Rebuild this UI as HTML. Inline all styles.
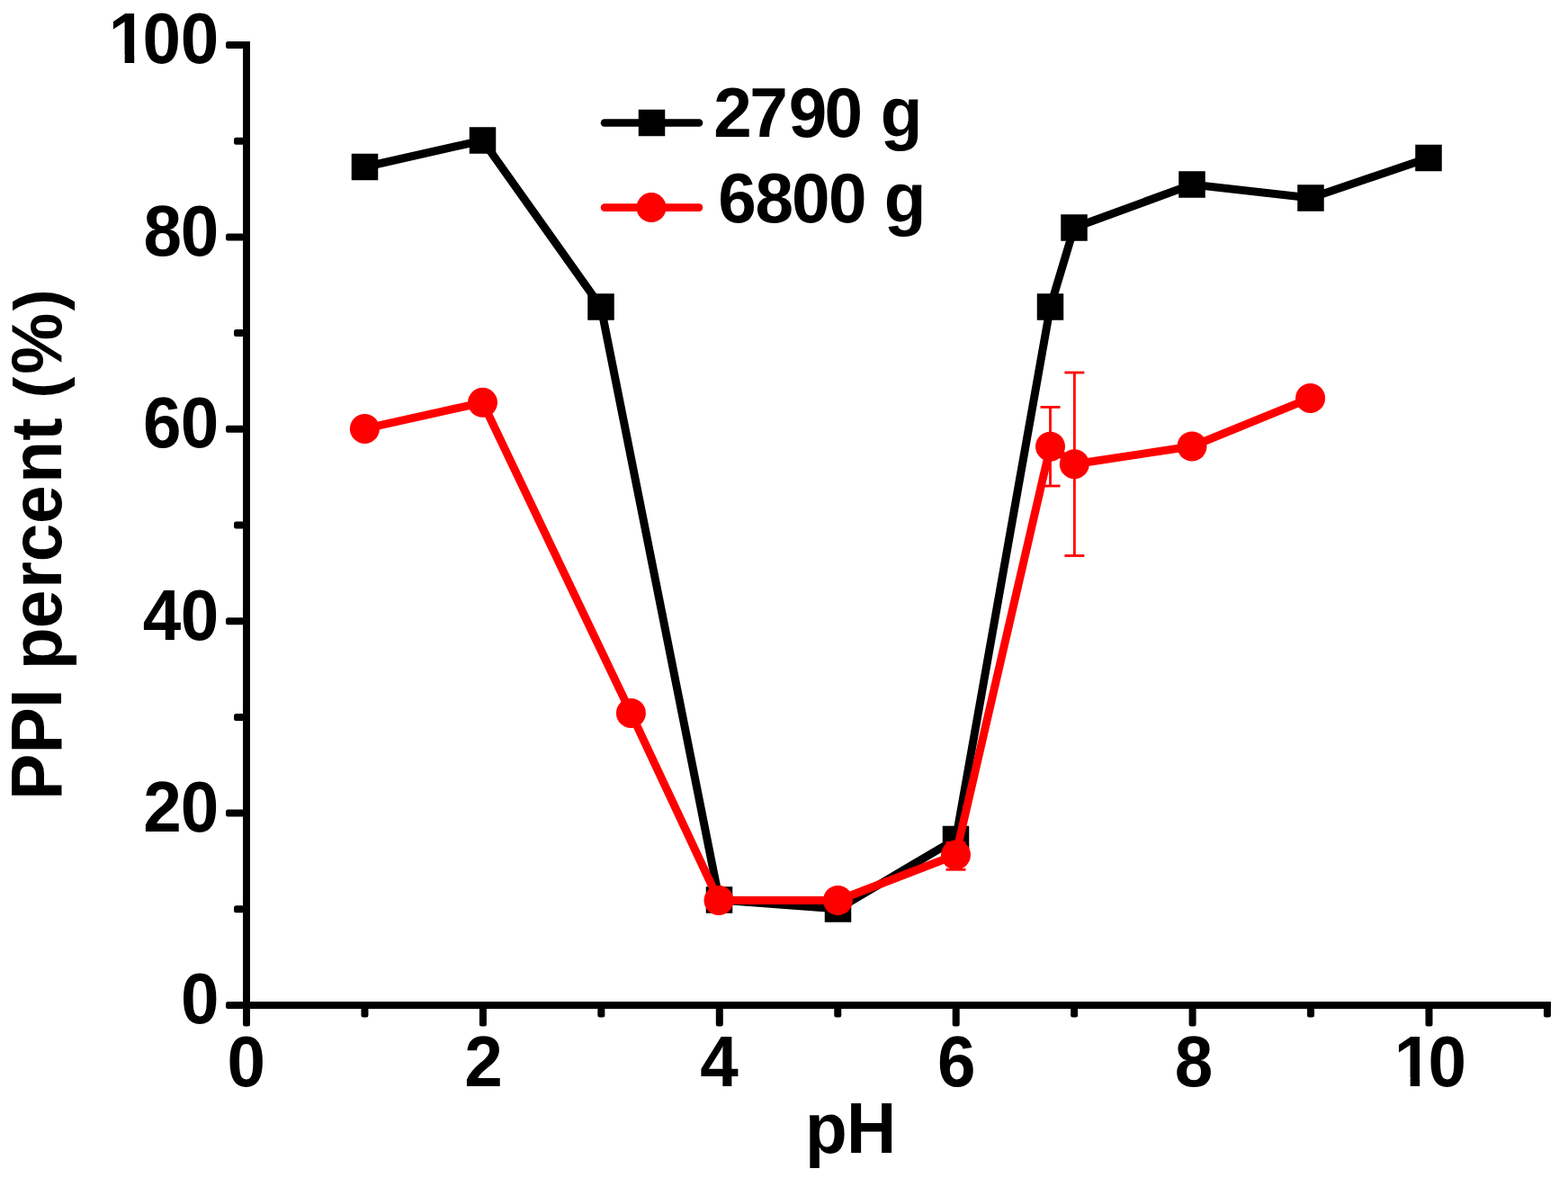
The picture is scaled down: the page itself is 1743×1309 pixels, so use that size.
<!DOCTYPE html><html><head><meta charset="utf-8"><title>PPI percent vs pH</title>
<style>html,body{margin:0;padding:0;background:#fff;overflow:hidden}svg{display:block}text{font-family:"Liberation Sans",Arial,sans-serif;font-weight:bold;fill:#000}</style></head><body>
<svg width="1743" height="1309" viewBox="0 0 1743 1309">
<rect width="1743" height="1309" fill="#fff"/>
<g fill="#000">
<rect x="270" y="46" width="8" height="1075"/>
<rect x="270" y="1113" width="1454" height="8"/>
</g>
<g fill="#000">
<rect x="251" y="1113.00" width="25" height="8" rx="2.5"/>
<rect x="260" y="1006.30" width="16" height="8" rx="2.5"/>
<rect x="251" y="899.60" width="25" height="8" rx="2.5"/>
<rect x="260" y="792.90" width="16" height="8" rx="2.5"/>
<rect x="251" y="686.20" width="25" height="8" rx="2.5"/>
<rect x="260" y="579.50" width="16" height="8" rx="2.5"/>
<rect x="251" y="472.80" width="25" height="8" rx="2.5"/>
<rect x="260" y="366.10" width="16" height="8" rx="2.5"/>
<rect x="251" y="259.40" width="25" height="8" rx="2.5"/>
<rect x="260" y="152.70" width="16" height="8" rx="2.5"/>
<rect x="251" y="46.00" width="25" height="8" rx="2.5"/>
<rect x="270.00" y="1115" width="8" height="25.5" rx="2.5"/>
<rect x="401.45" y="1115" width="8" height="15.5" rx="2.5"/>
<rect x="532.90" y="1115" width="8" height="25.5" rx="2.5"/>
<rect x="664.35" y="1115" width="8" height="15.5" rx="2.5"/>
<rect x="795.80" y="1115" width="8" height="25.5" rx="2.5"/>
<rect x="927.25" y="1115" width="8" height="15.5" rx="2.5"/>
<rect x="1058.70" y="1115" width="8" height="25.5" rx="2.5"/>
<rect x="1190.15" y="1115" width="8" height="15.5" rx="2.5"/>
<rect x="1321.60" y="1115" width="8" height="25.5" rx="2.5"/>
<rect x="1453.05" y="1115" width="8" height="15.5" rx="2.5"/>
<rect x="1584.50" y="1115" width="8" height="25.5" rx="2.5"/>
<rect x="1715.95" y="1115" width="8" height="15.5" rx="2.5"/>
</g>
<text x="200.97" y="0" transform="translate(0,1137.3) scale(1,1.035)" font-size="76.5">0</text>
<text x="159.35 200.87" y="0" transform="translate(0,923.9) scale(1,1.035)" font-size="76.5">20</text>
<text x="158.74 200.87" y="0" transform="translate(0,710.5) scale(1,1.035)" font-size="76.5">40</text>
<text x="159.10 200.87" y="0" transform="translate(0,497.1) scale(1,1.035)" font-size="76.5">60</text>
<text x="159.47 200.87" y="0" transform="translate(0,283.7) scale(1,1.035)" font-size="76.5">80</text>
<text x="120.85 158.57 200.77" y="0" transform="translate(0,70.3) scale(1,1.035)" font-size="76.5" clip-path="url(#c1_0)">100</text>
<text x="252.57" y="0" transform="translate(0,1206.6) scale(1,1.035)" font-size="76.5">0</text>
<text x="516.35" y="0" transform="translate(0,1206.6) scale(1,1.035)" font-size="76.5">2</text>
<text x="778.34" y="0" transform="translate(0,1206.6) scale(1,1.035)" font-size="76.5">4</text>
<text x="1042.00" y="0" transform="translate(0,1206.6) scale(1,1.035)" font-size="76.5">6</text>
<text x="1305.67" y="0" transform="translate(0,1206.6) scale(1,1.035)" font-size="76.5">8</text>
<text x="1549.85 1587.57" y="0" transform="translate(0,1206.6) scale(1,1.035)" font-size="76.5" clip-path="url(#c1_1)">10</text>
<text x="894.96 940.88" y="0" transform="translate(0,1281) scale(1,1.035)" font-size="76.5">pH</text>
<text y="0" transform="translate(68,889.0) rotate(-90) scale(1,1.035)" font-size="76.5"><tspan x="0.18 51.88 102.18 123.44 145.06 190.71 235.26 264.81 306.91 352.26 399.37 424.84">PPI percent </tspan><tspan x="446.43" font-size="71.7">(</tspan><tspan x="473.19">%</tspan><tspan x="543.83" font-size="71.7">)</tspan></text>
<polyline points="405.5,185.5 536.5,156 668,341 799.5,1000 931.5,1010 1062.5,932.5 1167.5,341 1194,253 1325,205 1457,220 1588,175.5" fill="none" stroke="#000" stroke-width="9" stroke-linejoin="miter"/>
<g fill="#000">
<rect x="390.75" y="170.75" width="29.5" height="29.5"/>
<rect x="521.75" y="141.25" width="29.5" height="29.5"/>
<rect x="653.25" y="326.25" width="29.5" height="29.5"/>
<rect x="784.75" y="985.25" width="29.5" height="29.5"/>
<rect x="916.75" y="995.25" width="29.5" height="29.5"/>
<rect x="1047.75" y="917.75" width="29.5" height="29.5"/>
<rect x="1152.75" y="326.25" width="29.5" height="29.5"/>
<rect x="1179.25" y="238.25" width="29.5" height="29.5"/>
<rect x="1310.25" y="190.25" width="29.5" height="29.5"/>
<rect x="1442.25" y="205.25" width="29.5" height="29.5"/>
<rect x="1573.25" y="160.75" width="29.5" height="29.5"/>
</g>
<polyline points="405.4,476.4 536.5,447.3 701.4,792.4 799,1000.5 931.4,1000.5 1062.5,950 1167.5,496.2 1194.3,515.7 1325,496 1456.6,442.4" fill="none" stroke="#f00" stroke-width="9" stroke-linejoin="round"/>
<g stroke="#f00" stroke-width="2.8" fill="none">
<line x1="1062.5" y1="936.4" x2="1062.5" y2="966.3"/>
<line x1="1051.5" y1="936.4" x2="1073.5" y2="936.4"/>
<line x1="1051.5" y1="966.3" x2="1073.5" y2="966.3"/>
<line x1="1167.5" y1="452.4" x2="1167.5" y2="540"/>
<line x1="1156.5" y1="452.4" x2="1178.5" y2="452.4"/>
<line x1="1156.5" y1="540" x2="1178.5" y2="540"/>
<line x1="1194.4" y1="414" x2="1194.4" y2="617.5"/>
<line x1="1183.4" y1="414" x2="1205.4" y2="414"/>
<line x1="1183.4" y1="617.5" x2="1205.4" y2="617.5"/>
</g>
<g fill="#f00">
<circle cx="405.4" cy="476.4" r="16.5"/>
<circle cx="536.5" cy="447.3" r="16.5"/>
<circle cx="701.4" cy="792.4" r="16.5"/>
<circle cx="799" cy="1000.5" r="16.5"/>
<circle cx="931.4" cy="1000.5" r="16.5"/>
<circle cx="1062.5" cy="950" r="16.5"/>
<circle cx="1167.5" cy="496.2" r="16.5"/>
<circle cx="1194.3" cy="515.7" r="16.5"/>
<circle cx="1325" cy="496" r="16.5"/>
<circle cx="1456.6" cy="442.4" r="16.5"/>
</g>
<line x1="672" y1="136.5" x2="777" y2="136.5" stroke="#000" stroke-width="8.6" stroke-linecap="round"/>
<rect x="709.75" y="121.75" width="29.5" height="29.5" fill="#000"/>
<line x1="672" y1="230.6" x2="777" y2="230.6" stroke="#f00" stroke-width="8.6" stroke-linecap="round"/>
<circle cx="724" cy="230.6" r="16.5" fill="#f00"/>
<text x="793.35 833.31 876.85 916.57 959.12 978.86" y="0" transform="translate(0,152) scale(1,1.02)" font-size="76.5">2790 g</text>
<text x="798.20 839.57 879.97 920.97 963.52 982.86" y="0" transform="translate(0,247) scale(1,1.02)" font-size="76.5">6800 g</text>
<defs><clipPath id="c1_0"><rect x="-2000" y="-200" width="4000" height="190.69"/><rect x="-2000" y="-200" width="2124.17" height="400"/><rect x="138.70" y="-200" width="10.50" height="400"/><rect x="162.77" y="-200" width="2000" height="400"/></clipPath><clipPath id="c1_1"><rect x="-2000" y="-200" width="4000" height="190.69"/><rect x="-2000" y="-200" width="3553.17" height="400"/><rect x="1567.70" y="-200" width="10.50" height="400"/><rect x="1591.77" y="-200" width="2000" height="400"/></clipPath></defs>
</svg></body></html>
